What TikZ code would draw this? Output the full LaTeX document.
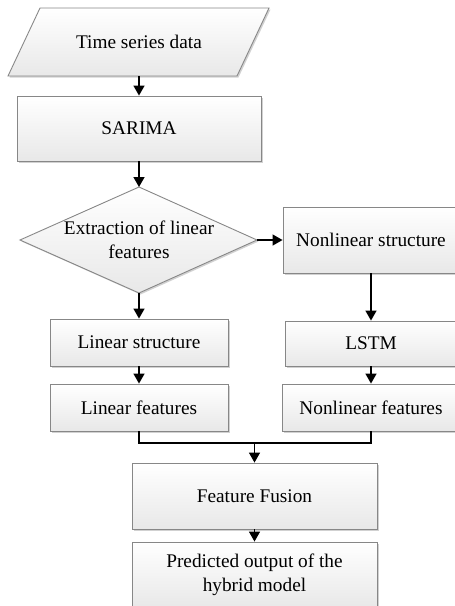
\documentclass[tikz,border=0pt]{standalone}
\usepackage{fontspec}
\setmainfont{Liberation Serif}
\usetikzlibrary{arrows.meta,shadows}
\definecolor{edgegray}{RGB}{135,135,135}
\definecolor{fillbot}{RGB}{232,232,232}
\begin{document}
\begin{tikzpicture}[x=1pt,y=-1pt,
  every node/.style={font=\fontsize{19.3}{23.5}\selectfont},
  shapefill/.style={draw=edgegray, line width=0.9pt, top color=white, bottom color=fillbot,
     drop shadow={shadow xshift=1.5pt, shadow yshift=-1.5pt, fill=black, opacity=0.18}},
  procbox/.style={shapefill, rectangle, inner sep=0pt, align=center},
  conn/.style={line width=1.4pt, -{Triangle[length=10pt,width=11pt]}},
  plainline/.style={line width=1.4pt}]
\useasboundingbox (0,0) rectangle (455,606);
\begin{scope}
\clip (0,0) rectangle (455,606);
% parallelogram
\path[shapefill] (40,8) -- (269,8) -- (237,76) -- (8,76) -- cycle;
\node (tsd) at (139,42) {Time series data};
\coordinate (tsdb) at (139,76);
% SARIMA
\node[procbox, minimum width=244pt, minimum height=65pt] (sarima) at (139,128.5) {SARIMA};
% diamond
\path[shapefill] (139,187) -- (257,240) -- (139,293) -- (20,240) -- cycle;
\node[align=center] (ext) at (139,240) {Extraction of linear\\features};
\coordinate (dtop) at (139,187);
\coordinate (dright) at (257,240);
\coordinate (dbot) at (139,293);
% right column
\node[procbox, minimum width=176pt, minimum height=66pt] (ns) at (371,240) {Nonlinear structure};
\node[procbox, minimum width=172pt, minimum height=45pt] (lstm) at (371,343.5) {LSTM};
\node[procbox, minimum width=178pt, minimum height=47pt] (nf) at (371,407.5) {Nonlinear features};
% left column
\node[procbox, minimum width=178pt, minimum height=47pt] (ls) at (139,342.5) {Linear structure};
\node[procbox, minimum width=178pt, minimum height=47pt] (lf) at (139,407.5) {Linear features};
% bottom
\node[procbox, minimum width=245pt, minimum height=66pt] (ff) at (254.5,496) {Feature Fusion};
\node[procbox, minimum width=245pt, minimum height=66pt] (pred) at (254.5,575) {Predicted output of the\\hybrid model};
% connectors
\draw[conn] (tsdb) -- (sarima.north);
\draw[conn] (sarima.south) -- (dtop);
\draw[conn] (dright) -- (ns.west);
\draw[conn] (dbot) -- (ls.north);
\draw[conn] (ns.south) -- (lstm.north);
\draw[conn] (ls.south) -- (lf.north);
\draw[conn] (lstm.south) -- (nf.north);
\coordinate (merge) at (254.5,443);
\draw[plainline] (lf.south) |- (merge) -| (nf.south);
\draw[conn] (merge) -- (ff.north);
\draw[conn] (ff.south) -- (pred.north);
\end{scope}
\end{tikzpicture}
\end{document}
